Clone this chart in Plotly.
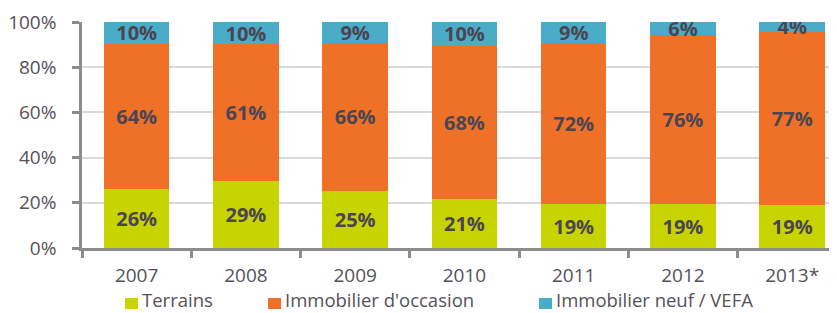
import plotly.graph_objects as go

years = ["2007", "2008", "2009", "2010", "2011", "2012", "2013*"]
terrains = [26, 29, 25, 21, 19, 19, 19]
occasion = [64, 61, 66, 68, 72, 76, 77]
neuf = [10, 10, 9, 10, 9, 6, 4]
# heights as drawn
terrains_h = [25.9, 29.5, 25.2, 21.5, 19.4, 19.4, 19.0]
occasion_h = [64.4, 60.6, 65.6, 68.0, 71.2, 74.8, 76.7]
neuf_h = [9.7, 9.9, 9.2, 10.5, 9.4, 5.8, 4.3]
series_names = ["Terrains", "Immobilier d'occasion", "Immobilier neuf / VEFA"]
colors = ["#c8d400", "#ef7128", "#4aacc6"]

# page body has an 8px default margin: figure sized so it fills the 837x313 window
OFF = 8
W, H = 837 - OFF, 313 - OFF
ML, MR, MT, MB = 82 - OFF, 0, 22 - OFF, 313 - 248

fig = go.Figure()
for name, h, lab, col in zip(series_names, [terrains_h, occasion_h, neuf_h],
                             [terrains, occasion, neuf], colors):
    fig.add_trace(go.Bar(
        x=years, y=h, name=name, marker=dict(color=col, line=dict(width=0)),
        text=[f"{v}%" for v in lab], textposition="inside",
        insidetextanchor="middle", constraintext="none",
        textfont=dict(family="Open Sans", size=20, color="#4b4553", weight="bold"),
        hoverinfo="skip", showlegend=False,
    ))

# manual legend (squares + labels); page-pixel positions converted to paper coords
legend_sq_x = [125, 268, 539]
pw, ph = W - ML - MR, H - MT - MB
def px(x):
    return (x - OFF - ML) / pw
def py(y):
    return (H - MB - (y - OFF)) / ph
for name, col, sx in zip(series_names, colors, legend_sq_x):
    fig.add_shape(type="rect", xref="paper", yref="paper",
                  x0=px(sx), x1=px(sx + 13), y0=py(309), y1=py(298),
                  fillcolor=col, line=dict(width=0))
    fig.add_annotation(xref="paper", yref="paper", x=px(sx + 16), y=py(313),
                       xanchor="left", yanchor="bottom", showarrow=False,
                       borderpad=0,
                       text=name, font=dict(family="Open Sans", size=18.5, color="#555159"))

fig.update_layout(
    barmode="stack", barnorm="percent", bargap=0.4,
    width=W, height=H,
    margin=dict(l=ML, r=MR, t=MT, b=MB),
    plot_bgcolor="white", paper_bgcolor="white",
    font=dict(family="Open Sans", size=19, color="#555159"),
    showlegend=False,
)
fig.update_xaxes(
    range=[-0.5, 6.41], showline=True, linecolor="#8c8c8c", linewidth=2.5,
    ticks="outside", tickson="boundaries", ticklen=7, tickwidth=2.5, tickcolor="#8c8c8c",
    ticklabelstandoff=8, showgrid=False, automargin=False,
)
fig.update_yaxes(
    range=[0, 100], tickvals=[0, 20, 40, 60, 80, 100],
    ticktext=["0%", "20%", "40%", "60%", "80%", "100%"],
    showline=True, linecolor="#8c8c8c", linewidth=2.5,
    ticks="outside", ticklen=7, tickwidth=2.5, tickcolor="#8c8c8c",
    showgrid=True, gridcolor="#d9d9d9", gridwidth=2, zeroline=False,
    ticklabelstandoff=12, automargin=False,
)

fig.write_html("out.html")
